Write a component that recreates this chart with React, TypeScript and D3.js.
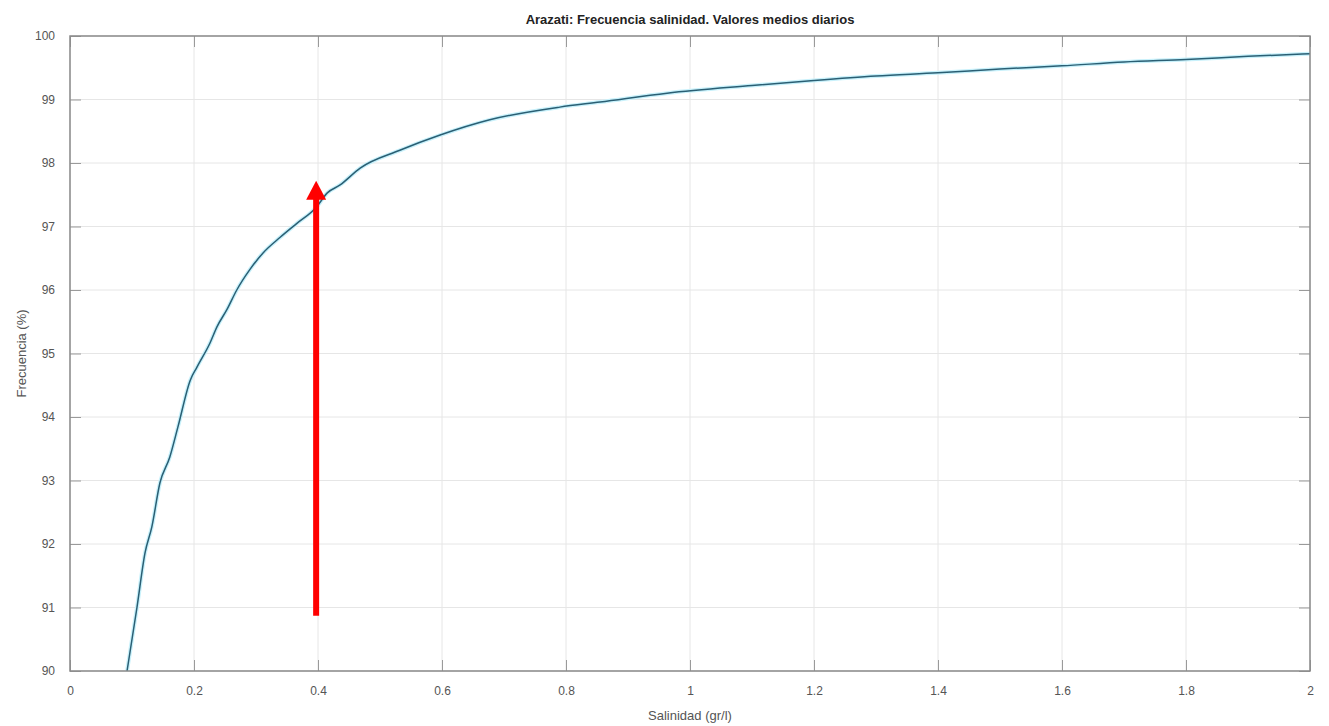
import React, { useEffect, useRef } from 'react';
import * as d3 from 'd3';

// salinidad (gr/l) vs frecuencia acumulada (%)
const salinidad = [0.092, 0.108, 0.121, 0.132, 0.145, 0.161, 0.174, 0.194, 0.205, 0.226, 0.237, 0.253, 0.269, 0.29, 0.311, 0.339, 0.366, 0.397, 0.415, 0.435, 0.468, 0.532, 0.597, 0.677, 0.79, 0.855, 0.963, 1.1, 1.2, 1.3, 1.4, 1.5, 1.6, 1.7, 1.8, 1.9, 2.0];
const frecuencia = [90.0, 91.0, 91.86, 92.27, 92.96, 93.37, 93.84, 94.58, 94.79, 95.17, 95.42, 95.69, 96.0, 96.32, 96.58, 96.83, 97.05, 97.3, 97.53, 97.65, 97.92, 98.2, 98.44, 98.68, 98.88, 98.96, 99.1, 99.22, 99.3, 99.37, 99.42, 99.48, 99.53, 99.59, 99.63, 99.68, 99.72];

const xTicks = [0, 0.2, 0.4, 0.6, 0.8, 1, 1.2, 1.4, 1.6, 1.8, 2];
const yTicks = [90, 91, 92, 93, 94, 95, 96, 97, 98, 99, 100];

// red arrow annotation
const arrowX = 0.397;
const arrowFrom = 90.87;
const arrowTo = 97.72;

export default function App() {
  const ref = useRef<SVGSVGElement>(null);

  useEffect(() => {
    const margin = { top: 36, right: 19, bottom: 55, left: 70 },
      width = 1329 - margin.left - margin.right,
      height = 726 - margin.top - margin.bottom;
    const svg = d3.select(ref.current);
    svg.selectAll('*').remove();
    const g = svg.append('g')
      .attr('transform', 'translate(' + margin.left + ',' + margin.top + ')');

    const x = d3.scaleLinear().domain([0, 2]).range([0, width]);
    const y = d3.scaleLinear().domain([90, 100]).range([height, 0]);

    // grid
    g.append('g').selectAll('line').data(xTicks).enter().append('line')
      .attr('x1', d => x(d)).attr('x2', d => x(d))
      .attr('y1', 0).attr('y2', height)
      .attr('stroke', '#e6e6e6').attr('stroke-width', 1);
    g.append('g').selectAll('line').data(yTicks).enter().append('line')
      .attr('y1', d => y(d)).attr('y2', d => y(d))
      .attr('x1', 0).attr('x2', width)
      .attr('stroke', '#e6e6e6').attr('stroke-width', 1);

    // curve
    const data = salinidad.map((s, i) => ({ x: s, y: frecuencia[i] }));
    const line = d3.line<{ x: number; y: number }>()
      .x(d => x(d.x)).y(d => y(d.y))
      .curve(d3.curveMonotoneX);
    g.append('path').datum(data)
      .attr('d', line)
      .attr('fill', 'none')
      .attr('stroke', '#c8f1fb')
      .attr('stroke-width', 4);
    g.append('path').datum(data)
      .attr('d', line)
      .attr('fill', 'none')
      .attr('stroke', '#2a5f74')
      .attr('stroke-width', 1.5);

    // axes with inward ticks, MATLAB style box
    const axisColor = '#8a8a8a';
    const styleAxis = (sel: any) => {
      sel.select('.domain').remove();
      sel.selectAll('.tick line').attr('stroke', '#9a9a9a');
      sel.selectAll('.tick text')
        .attr('fill', '#555')
        .style('font-family', 'Liberation Sans, Arial, sans-serif')
        .style('font-size', '12px');
    };
    const fmt = (d: any) => String(d);
    g.append('g').attr('transform', 'translate(0,' + height + ')')
      .call(d3.axisBottom(x).tickValues(xTicks).tickFormat(fmt).tickSizeInner(-11).tickPadding(15))
      .call(styleAxis);
    g.append('g')
      .call(d3.axisTop(x).tickValues(xTicks).tickFormat(() => '').tickSizeInner(-11))
      .call(styleAxis);
    g.append('g')
      .call(d3.axisLeft(y).tickValues(yTicks).tickFormat(fmt).tickSizeInner(-11).tickPadding(15))
      .call(styleAxis);
    g.append('g').attr('transform', 'translate(' + width + ',0)')
      .call(d3.axisRight(y).tickValues(yTicks).tickFormat(() => '').tickSizeInner(-11))
      .call(styleAxis);
    g.append('rect')
      .attr('x', 0).attr('y', 0).attr('width', width).attr('height', height)
      .attr('fill', 'none').attr('stroke', axisColor).attr('stroke-width', 1.5);

    // arrow
    const ax = x(arrowX);
    g.append('line')
      .attr('x1', ax).attr('x2', ax)
      .attr('y1', y(arrowFrom)).attr('y2', y(arrowTo) + 16)
      .attr('stroke', '#ff0000').attr('stroke-width', 6);
    g.append('path')
      .attr('d', 'M' + (ax - 10) + ',' + (y(arrowTo) + 19) + 'L' + ax + ',' + y(arrowTo) + 'L' + (ax + 10) + ',' + (y(arrowTo) + 19) + 'Z')
      .attr('fill', '#ff0000');

    // title and labels
    svg.append('text')
      .attr('x', margin.left + width / 2).attr('y', 24)
      .attr('text-anchor', 'middle')
      .style('font-family', 'Liberation Sans, Arial, sans-serif')
      .style('font-size', '13px').style('font-weight', 'bold')
      .attr('fill', '#222')
      .text('Arazati: Frecuencia salinidad. Valores medios diarios');
    svg.append('text')
      .attr('x', margin.left + width / 2).attr('y', 720)
      .attr('text-anchor', 'middle')
      .style('font-family', 'Liberation Sans, Arial, sans-serif')
      .style('font-size', '13px')
      .attr('fill', '#555')
      .text('Salinidad (gr/l)');
    svg.append('text')
      .attr('transform', 'translate(26,' + (margin.top + height / 2) + ') rotate(-90)')
      .attr('text-anchor', 'middle')
      .style('font-family', 'Liberation Sans, Arial, sans-serif')
      .style('font-size', '13px')
      .attr('fill', '#555')
      .text('Frecuencia (%)');
  }, []);

  return <svg ref={ref} width={1329} height={726} style={{ position: 'absolute', left: 0, top: 0, background: '#fff' }} />;
}
